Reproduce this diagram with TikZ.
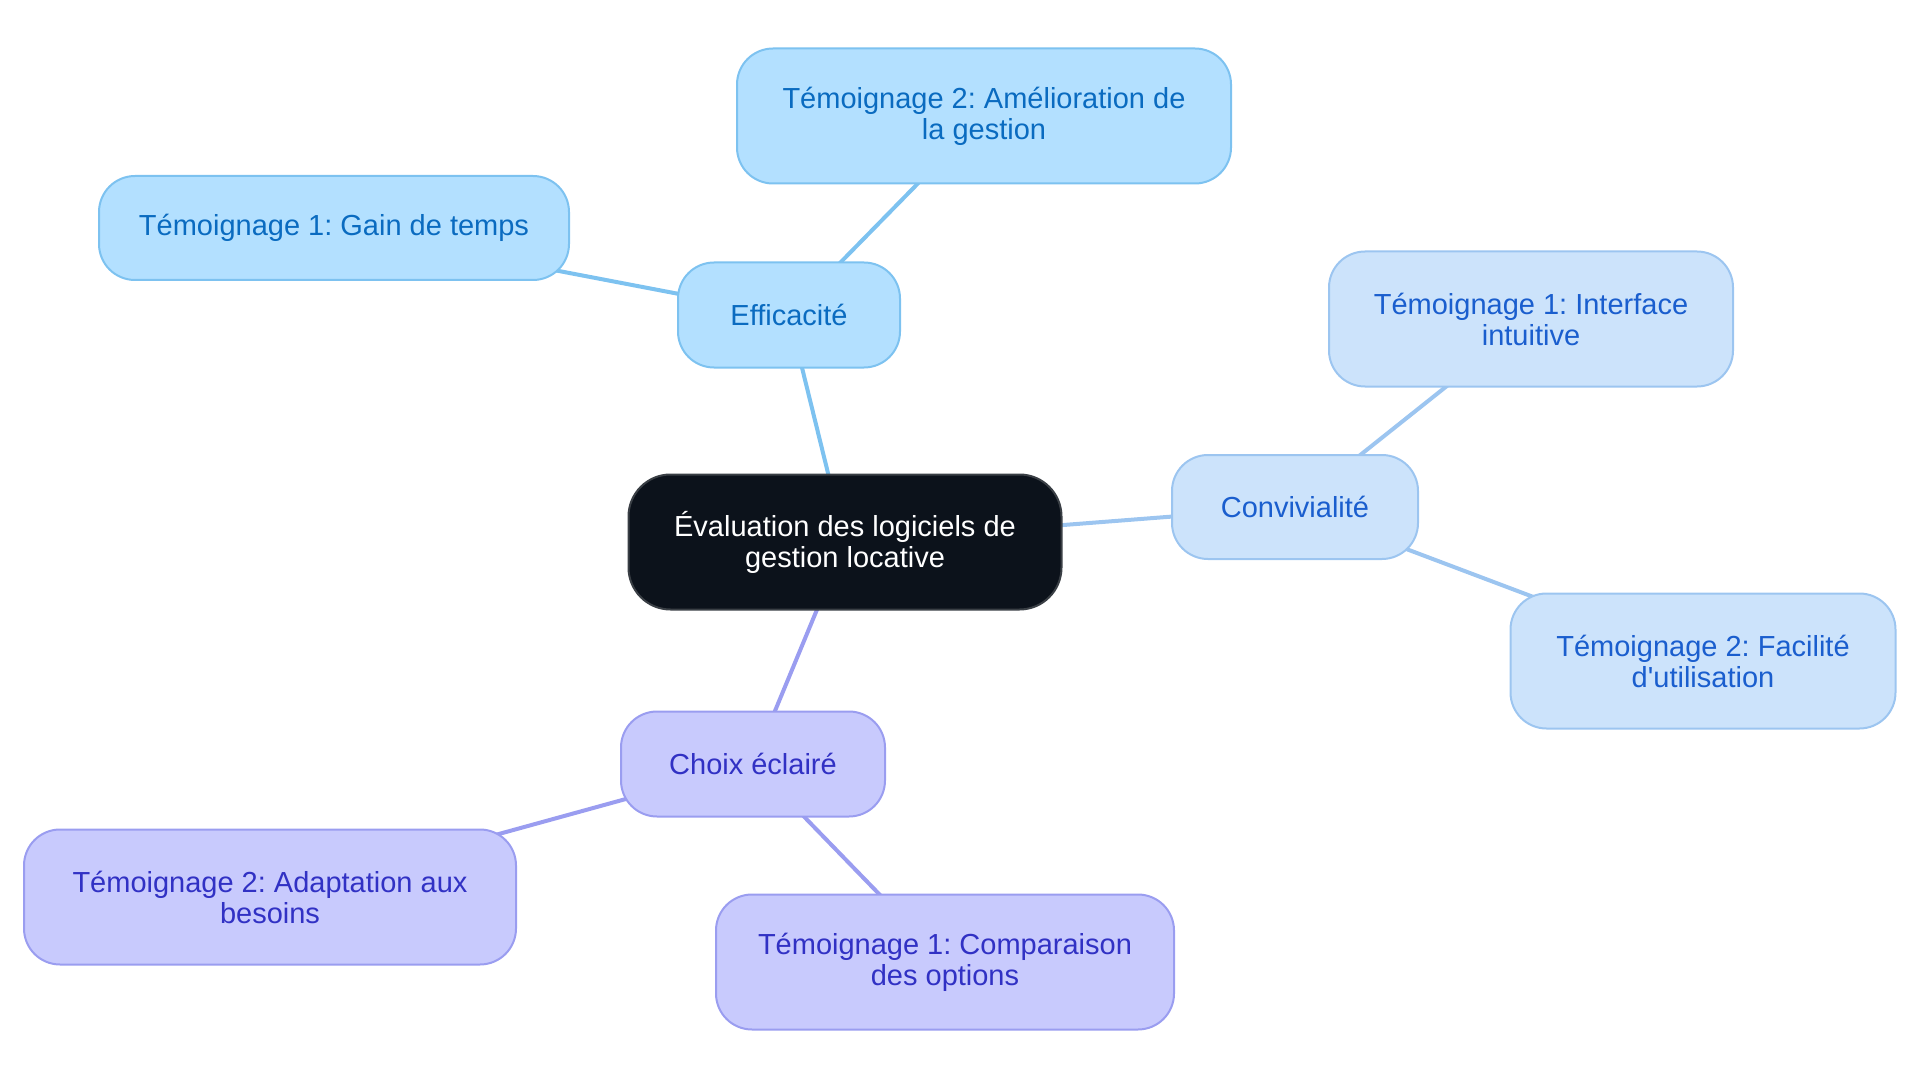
\documentclass[tikz,border=0pt]{standalone}
\usepackage{fontspec}
\setmainfont{Liberation Sans}[Ligatures={NoCommon}]
\usepackage{tikz}
\usetikzlibrary{backgrounds}
\frenchspacing

\definecolor{rootfill}{HTML}{0C121B}
\definecolor{rootline}{HTML}{3A3F45}
\definecolor{efffill}{HTML}{B3E0FF}
\definecolor{effline}{HTML}{7DC2F0}
\definecolor{efftext}{HTML}{0A6BC0}
\definecolor{convfill}{HTML}{CCE3FB}
\definecolor{convline}{HTML}{9CC5F0}
\definecolor{convtext}{HTML}{1A5ECE}
\definecolor{choixfill}{HTML}{C8CAFD}
\definecolor{choixline}{HTML}{9A9DF0}
\definecolor{choixtext}{HTML}{3131C4}

\begin{document}
\begin{tikzpicture}[x=1pt,y=-1pt,
    box/.style={rounded corners=36pt, line width=2pt, align=center, inner sep=0pt,
        font=\fontsize{29}{31}\selectfont},
    effbox/.style={box, fill=efffill, draw=effline, text=efftext},
    convbox/.style={box, fill=convfill, draw=convline, text=convtext},
    choixbox/.style={box, fill=choixfill, draw=choixline, text=choixtext},
    link/.style={line width=4pt}]
    \useasboundingbox (0,0) rectangle (1920,1083);

    \node[box, fill=rootfill, draw=rootline, text=white, rounded corners=42pt,
        minimum width=433pt, minimum height=135pt] (root) at (845,542)
        {Évaluation des logiciels de\\gestion locative};

    \node[effbox, minimum width=222pt, minimum height=105pt] (eff) at (789,315) {Efficacité};
    \node[effbox, minimum width=494pt, minimum height=135pt] (eff2) at (984,116) {Témoignage 2: Amélioration de\\la gestion};
    \node[effbox, minimum width=470pt, minimum height=104pt] (eff1) at (334,228) {Témoignage 1: Gain de temps};

    \node[convbox, minimum width=246pt, minimum height=104pt] (conv) at (1295,507) {Convivialité};
    \node[convbox, minimum width=404pt, minimum height=135pt] (conv1) at (1531,319) {Témoignage 1: Interface\\intuitive};
    \node[convbox, minimum width=385pt, minimum height=135pt] (conv2) at (1703,661) {Témoignage 2: Facilité\\d\textquotesingle utilisation};

    \node[choixbox, minimum width=264pt, minimum height=105pt] (choix) at (753,764) {Choix éclairé};
    \node[choixbox, minimum width=492pt, minimum height=135pt] (choix2) at (270,897) {Témoignage 2: Adaptation aux\\besoins};
    \node[choixbox, minimum width=458pt, minimum height=135pt] (choix1) at (945,962) {Témoignage 1: Comparaison\\des options};

    % links go behind the boxes
    \begin{scope}[on background layer]
        \draw[link, effline] (root.center) -- (eff.center);
        \draw[link, effline] (eff.center) -- (eff1.center);
        \draw[link, effline] (eff.center) -- (eff2.center);
        \draw[link, convline] (root.center) -- (conv.center);
        \draw[link, convline] (conv.center) -- (conv1.center);
        \draw[link, convline] (conv.center) -- (conv2.center);
        \draw[link, choixline] (root.center) -- (choix.center);
        \draw[link, choixline] (choix.center) -- (choix1.center);
        \draw[link, choixline] (choix.center) -- (choix2.center);
    \end{scope}
\end{tikzpicture}
\end{document}
